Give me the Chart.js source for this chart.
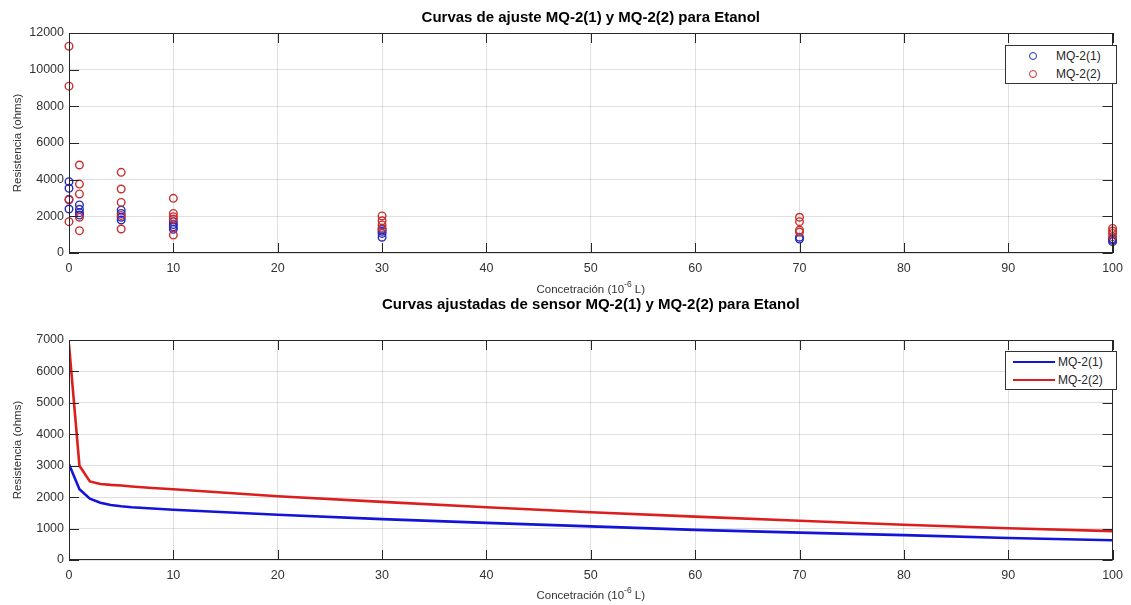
<!DOCTYPE html>
<html>
<head>
<meta charset="utf-8">
<script src="https://cdn.jsdelivr.net/npm/chart.js@4"></script>
<style>
  body { margin: 0; background: #fff; font-family: "Liberation Sans", Arial, sans-serif; }
  .wrap { position: absolute; left: 0; width: 1131px; }
  #topWrap { top: 0; height: 300px; }
  #bottomWrap { top: 285px; height: 320px; }
  .legend {
    position: absolute; background: #fff; border: 1px solid #333; box-sizing: border-box;
    font-size: 12px; color: #262626; line-height: 18px; padding-top: 1px;
  }
  .legend .row { display: flex; align-items: center; height: 18px; }
  .legend .dot { width: 6px; height: 6px; border-radius: 50%; border: 1.6px solid; margin-left: 23px; margin-right: 19px; }
  .legend .line { width: 42px; height: 0; border-top: 2.6px solid; margin-left: 7px; margin-right: 3px; }
</style>
</head>
<body>
<div class="wrap" id="topWrap"><canvas id="chartScatter" width="1131" height="300"></canvas></div>
<div class="wrap" id="bottomWrap"><canvas id="chartFit" width="1131" height="320"></canvas></div>

<div class="legend" style="left:1005px; top:45px; width:112px; height:39px;">
  <div class="row"><span class="dot" style="border-color:#2a2ab8"></span><span>MQ-2(1)</span></div>
  <div class="row"><span class="dot" style="border-color:#c83030"></span><span>MQ-2(2)</span></div>
</div>
<div class="legend" style="left:1005px; top:351px; width:112px; height:39px;">
  <div class="row"><span class="line" style="border-color:#1414d8"></span><span>MQ-2(1)</span></div>
  <div class="row"><span class="line" style="border-color:#dc1e1e"></span><span>MQ-2(2)</span></div>
</div>

<script>
// measured points (concentration, resistance)
const mq1X = [0, 0, 0, 0, 1, 1, 1, 1, 5, 5, 5, 5, 10, 10, 10, 10, 30, 30, 30, 30, 70, 70, 100, 100, 100];
const mq1Y = [3890, 3530, 2900, 2400, 2620, 2380, 2200, 2070, 2340, 2160, 1950, 1800, 1710, 1550, 1430, 1290, 1290, 1180, 1070, 860, 860, 760, 780, 700, 620];

const mq2X = [0, 0, 0, 0, 1, 1, 1, 1, 1, 5, 5, 5, 5, 5, 10, 10, 10, 10, 10, 30, 30, 30, 30, 70, 70, 70, 70, 100, 100, 100, 100];
const mq2Y = [11280, 9100, 2930, 1710, 4800, 3760, 3220, 1950, 1220, 4400, 3490, 2760, 2050, 1310, 2980, 2160, 1980, 1850, 980, 2020, 1760, 1530, 1350, 1950, 1710, 1250, 1140, 1340, 1200, 1070, 890];

// fitted curves
const fitX = [0, 1, 2, 3, 4, 5, 6, 8, 10, 15, 20, 30, 40, 50, 60, 70, 80, 90, 100];
const fit1 = [3050, 2250, 1950, 1820, 1750, 1710, 1680, 1640, 1600, 1520, 1440, 1300, 1180, 1070, 960, 870, 790, 700, 630];
const fit2 = [6850, 3000, 2500, 2420, 2390, 2370, 2340, 2290, 2250, 2140, 2030, 1850, 1680, 1520, 1380, 1250, 1120, 1010, 920];

const yLabel = "Resistencia (ohms)";
const fontFamily = "'Liberation Sans', Arial, sans-serif";

function toPoints(xs, ys) {
  return xs.map((x, i) => ({ x: x, y: ys[i] }));
}

// frame, inward ticks, title and x label (with superscript) like the matlab axes
const matlabBox = {
  id: "matlabBox",
  afterDraw(chart, args, opts) {
    const { ctx, chartArea: a, scales } = chart;
    ctx.save();
    ctx.strokeStyle = "#262626";
    ctx.lineWidth = 1;
    ctx.strokeRect(Math.round(a.left) + 0.5, Math.round(a.top) + 0.5, Math.round(a.width) - 1, Math.round(a.height) - 1);
    ctx.beginPath();
    scales.x.ticks.forEach((t) => {
      const px = Math.round(scales.x.getPixelForValue(t.value)) + 0.5;
      ctx.moveTo(px, a.bottom); ctx.lineTo(px, a.bottom - 10);
      ctx.moveTo(px, a.top); ctx.lineTo(px, a.top + 10);
    });
    scales.y.ticks.forEach((t) => {
      const py = Math.round(scales.y.getPixelForValue(t.value)) + 0.5;
      ctx.moveTo(a.left, py); ctx.lineTo(a.left + 10, py);
      ctx.moveTo(a.right, py); ctx.lineTo(a.right - 10, py);
    });
    ctx.stroke();

    ctx.fillStyle = "#000";
    ctx.font = "bold 15px " + fontFamily;
    ctx.textAlign = "center";
    ctx.textBaseline = "middle";
    ctx.fillText(opts.title, (a.left + a.right) / 2, opts.titleY);

    // x label: Concetración (10^-6 L)
    const parts = ["Concetración (10", "-6", " L)"];
    const big = "11.5px " + fontFamily;
    const small = "8.5px " + fontFamily;
    ctx.textAlign = "left";
    ctx.fillStyle = "#333";
    ctx.font = big;
    const w0 = ctx.measureText(parts[0]).width;
    const w2 = ctx.measureText(parts[2]).width;
    ctx.font = small;
    const w1 = ctx.measureText(parts[1]).width;
    let x = (a.left + a.right) / 2 - (w0 + w1 + w2) / 2;
    const y = opts.xLabelY;
    ctx.font = big;
    ctx.fillText(parts[0], x, y);
    x += w0;
    ctx.font = small;
    ctx.fillText(parts[1], x, y - 5);
    x += w1;
    ctx.font = big;
    ctx.fillText(parts[2], x, y);
    ctx.restore();
  },
};

function axisOptions(yMax, yStep, xHeight) {
  return {
    x: {
      type: "linear", min: 0, max: 100,
      ticks: { stepSize: 10, color: "#333", font: { family: fontFamily, size: 12.5 }, padding: 8, maxRotation: 0 },
      grid: { color: "rgba(0,0,0,0.12)", drawTicks: false },
      border: { display: false },
      afterFit: (s) => { s.height = xHeight; },
    },
    y: {
      min: 0, max: yMax,
      ticks: { stepSize: yStep, color: "#333", font: { family: fontFamily, size: 12.5 }, padding: 5, callback: (v) => String(v) },
      grid: { color: "rgba(0,0,0,0.12)", drawTicks: false },
      border: { display: false },
      title: { display: true, text: yLabel, color: "#333", font: { family: fontFamily, size: 11.5 }, padding: { top: 11, bottom: 0 } },
      afterFit: (s) => { s.width = 69; },
    },
  };
}

new Chart(document.getElementById("chartScatter"), {
  type: "scatter",
  data: {
    datasets: [
      {
        label: "MQ-2(1)",
        data: toPoints(mq1X, mq1Y),
        borderColor: "#2a2ab8",
        backgroundColor: "rgba(0,0,0,0)",
        pointRadius: 3.8,
        borderWidth: 1.4,
        clip: false,
        order: 2,
      },
      {
        label: "MQ-2(2)",
        data: toPoints(mq2X, mq2Y),
        borderColor: "#c83030",
        backgroundColor: "rgba(0,0,0,0)",
        pointRadius: 3.8,
        borderWidth: 1.4,
        clip: false,
        order: 1,
      },
    ],
  },
  options: {
    responsive: false,
    animation: false,
    layout: { padding: { top: 33, right: 12, left: 0, bottom: 0 } },
    plugins: {
      legend: { display: false },
      tooltip: { enabled: false },
      matlabBox: { title: "Curvas de ajuste MQ-2(1) y MQ-2(2) para Etanol", titleY: 18, xLabelY: 290 },
    },
    scales: axisOptions(12000, 2000, 47),
  },
  plugins: [matlabBox],
});

new Chart(document.getElementById("chartFit"), {
  type: "line",
  data: {
    datasets: [
      {
        label: "MQ-2(1)",
        data: toPoints(fitX, fit1),
        borderColor: "#1414d8",
        borderWidth: 2.6,
        pointRadius: 0,
        tension: 0,
        order: 2,
      },
      {
        label: "MQ-2(2)",
        data: toPoints(fitX, fit2),
        borderColor: "#dc1e1e",
        borderWidth: 2.6,
        pointRadius: 0,
        tension: 0,
        order: 1,
      },
    ],
  },
  options: {
    responsive: false,
    animation: false,
    layout: { padding: { top: 55, right: 12, left: 0, bottom: 0 } },
    plugins: {
      legend: { display: false },
      tooltip: { enabled: false },
      matlabBox: { title: "Curvas ajustadas de sensor MQ-2(1) y MQ-2(2) para Etanol", titleY: 20, xLabelY: 311 },
    },
    scales: axisOptions(7000, 1000, 45),
  },
  plugins: [matlabBox],
});
</script>
</body>
</html>
